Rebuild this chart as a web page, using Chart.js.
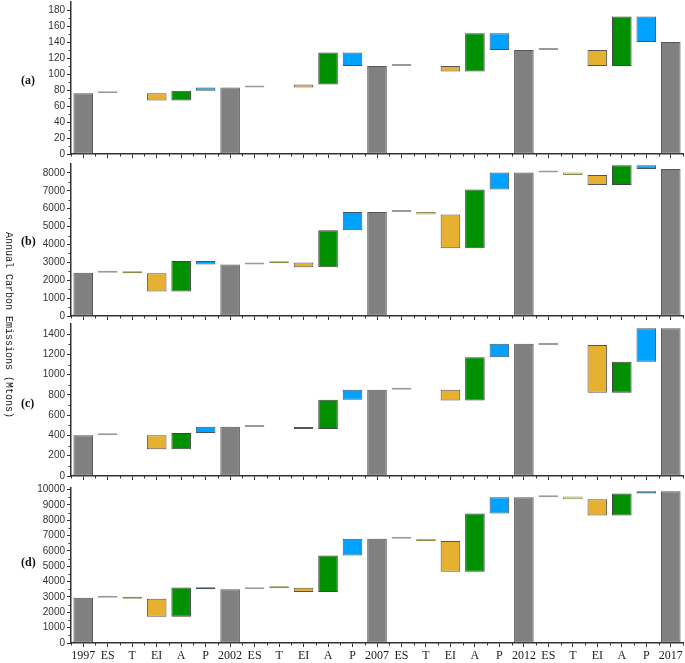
<!DOCTYPE html>
<html>
<head>
<meta charset="utf-8">
<title>Annual carbon emissions waterfall</title>
<script src="https://cdn.jsdelivr.net/npm/chart.js@4.4.1/dist/chart.umd.min.js"></script>
<style>
  body { margin: 0; background: #fff; }
  #wrap { position: relative; width: 685px; height: 663px; overflow: hidden; }
  #wrap canvas { position: absolute; left: 0; }
  .tag { position: absolute; left: 21px; font: bold 12px "Liberation Serif", serif; color: #111; }
  .ytitle {
    position: absolute; left: 8px; top: 325px; white-space: nowrap;
    font: 10px "Liberation Mono", monospace; color: #222;
    transform: translate(-50%, -50%) rotate(90deg);
  }
</style>
</head>
<body>
<div id="wrap">
  <canvas id="chartA"></canvas>
  <canvas id="chartB"></canvas>
  <canvas id="chartC"></canvas>
  <canvas id="chartD"></canvas>
  <div class="tag" style="top:73px">(a)</div>
  <div class="tag" style="top:234px">(b)</div>
  <div class="tag" style="top:396px">(c)</div>
  <div class="tag" style="top:555px">(d)</div>
  <div class="ytitle">Annual Carbon Emissions (Mtons)</div>
</div>
<script>
"use strict";

// Categories (year totals and the five factors between them)
const categories = [
  "1997", "ES", "T", "EI", "A", "P",
  "2002", "ES", "T", "EI", "A", "P",
  "2007", "ES", "T", "EI", "A", "P",
  "2012", "ES", "T", "EI", "A", "P",
  "2017",
];

// Running level after each step (null = no bar drawn)
const levelsA = [76, 76, null, 67, 79, 83, 83, 83, null, 87, 127, 110, 110, 110, null, 103, 151, 130, 130, 130, null, 110, 172, 140, 140];
const levelsB = [2420, 2420, 2390, 1370, 3070, 2880, 2880, 2950, 2990, 2730, 4800, 5820, 5820, 5820, 5670, 3790, 7080, 8020, 8020, 8020, 7890, 7320, 8425, 8220, 8220];
const levelsC = [402, 402, null, 265, 425, 487, 487, 484, null, 465, 752, 850, 850, 850, null, 746, 1171, 1305, 1305, 1292, null, 821, 1128, 1459, 1459];
const levelsD = [2950, 2950, 2890, 1717, 3609, 3500, 3500, 3560, 3600, 3330, 5700, 6800, 6800, 6800, 6650, 4650, 8435, 9500, 9500, 9540, 9370, 8304, 9739, 9890, 9890];

// Y tick labels for each panel
const ticksA = [0, 20, 40, 60, 80, 100, 120, 140, 160, 180];
const ticksB = [0, 1000, 2000, 3000, 4000, 5000, 6000, 7000, 8000];
const ticksC = [0, 200, 400, 600, 800, 1000, 1200, 1400];
const ticksD = [0, 1000, 2000, 3000, 4000, 5000, 6000, 7000, 8000, 9000, 10000];

// Colours per factor
const fillColors = { total: "#808080", ES: "#b4b4b4", T: "#e2e27a", EI: "#e6b030", A: "#009000", P: "#00a2ff" };
const lineColors = { total: "#555555", ES: "#999999", T: "#8c8c48", EI: "#555555", A: "#444444", P: "#445566" };

const isTotal = (label) => /^\d{4}$/.test(label);
const kindOf = (label) => (isTotal(label) ? "total" : label);

// Build floating bars [from, to] out of the running levels
function waterfall(levels) {
  let prev = 0;
  return levels.map((v, i) => {
    if (v === null) return null;
    const bar = isTotal(categories[i]) ? [0, v] : [prev, v];
    prev = v;
    return bar;
  });
}

// Short minor ticks on both axes
const minorTicks = {
  id: "minorTicks",
  afterDraw(chart, args, opts) {
    const { ctx } = chart;
    const x = chart.scales.x;
    const y = chart.scales.y;
    ctx.save();
    ctx.strokeStyle = "#333";
    ctx.lineWidth = 1;
    ctx.beginPath();
    for (let v = opts.step / 2; v < y.max; v += opts.step) {
      const py = Math.round(y.getPixelForValue(v)) + 0.5;
      ctx.moveTo(y.right - 2.5, py);
      ctx.lineTo(y.right, py);
    }
    const n = categories.length;
    for (let i = 0; i <= n; i++) {
      const px = Math.round(x.left + (i * x.width) / n) + 0.5;
      ctx.moveTo(px, x.top);
      ctx.lineTo(px, x.top + 2.5);
    }
    ctx.stroke();
    ctx.restore();
  },
};

const PAD_TOP = 8;

function makePanel(id, levels, yTicks, yMax, areaTop, areaBottom, showLabels) {
  const xHeight = showLabels ? 20 : 6;
  const yStep = yTicks[1] - yTicks[0];
  const canvas = document.getElementById(id);
  canvas.width = 685;
  canvas.height = PAD_TOP + (areaBottom - areaTop) + xHeight;
  canvas.style.top = areaTop - PAD_TOP + "px";

  new Chart(canvas, {
    type: "bar",
    data: {
      labels: categories,
      datasets: [
        {
          data: waterfall(levels),
          backgroundColor: categories.map((c) => fillColors[kindOf(c)]),
          borderColor: categories.map((c) => lineColors[kindOf(c)]),
          borderWidth: 1,
          borderSkipped: false,
          minBarLength: 2,
          barPercentage: 0.8,
          categoryPercentage: 1,
        },
      ],
    },
    options: {
      responsive: false,
      animation: false,
      layout: { padding: { top: PAD_TOP, right: 2, left: 0, bottom: 0 } },
      plugins: {
        legend: { display: false },
        tooltip: { enabled: false },
        minorTicks: { step: yStep },
      },
      scales: {
        x: {
          offset: true,
          grid: { offset: false, drawOnChartArea: false, tickLength: 4, tickColor: "#333" },
          border: { color: "#333", width: 1.5 },
          ticks: {
            display: showLabels,
            autoSkip: false,
            maxRotation: 0,
            padding: 2,
            color: "#222",
            font: { family: "Liberation Serif", size: 12 },
          },
          afterFit: (s) => { s.height = xHeight; },
        },
        y: {
          min: 0,
          max: yMax,
          grid: { drawOnChartArea: false, tickLength: 4, tickColor: "#333" },
          border: { color: "#333", width: 1.5 },
          ticks: {
            autoSkip: false,
            padding: 2,
            color: "#333",
            font: { family: "Liberation Sans", size: 10 },
            callback: (v) => String(v),
          },
          afterBuildTicks: (s) => { s.ticks = yTicks.map((v) => ({ value: v })); },
          afterFit: (s) => { s.width = 71; },
        },
      },
    },
    plugins: [minorTicks],
  });
}

makePanel("chartA", levelsA, ticksA, 190, 2, 156, false);
makePanel("chartB", levelsB, ticksB, 8500, 164, 318, false);
makePanel("chartC", levelsC, ticksC, 1500, 324, 478, false);
makePanel("chartD", levelsD, ticksD, 10100, 488, 643, true);
</script>
</body>
</html>
